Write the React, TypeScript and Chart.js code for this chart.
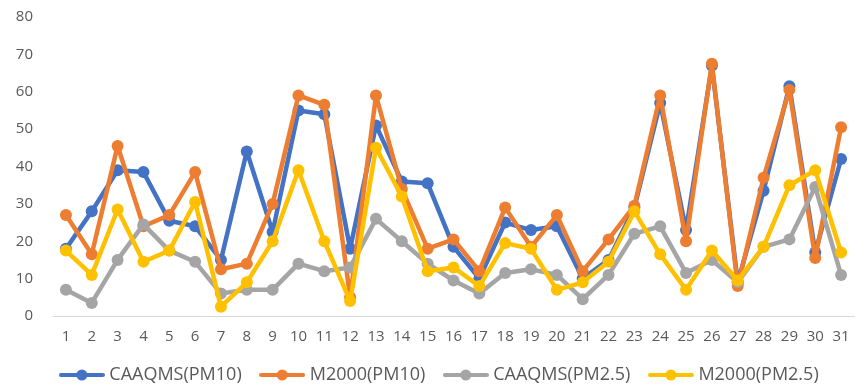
import React, { useEffect, useRef } from "react";
import { Chart, registerables } from "chart.js";

Chart.register(...registerables);

const days = ["1","2","3","4","5","6","7","8","9","10","11","12","13","14","15","16","17","18","19","20","21","22","23","24","25","26","27","28","29","30","31"];

const caaqmsPM10 = [18, 28, 39, 38.5, 25.5, 24, 15, 44, 22.5, 55, 54, 18, 51, 36, 35.5, 18.5, 10, 25, 23, 24, 10, 15, 29, 57, 23, 67, 9, 33.5, 61.5, 17, 42];
const m2000PM10 = [27, 16.5, 45.5, 24, 27, 38.5, 12.5, 14, 30, 59, 56.5, 5, 59, 34, 18, 20.5, 12, 29, 18.5, 27, 12, 20.5, 29.5, 59, 20, 67.5, 8, 37, 60.5, 15.5, 50.5];
const caaqmsPM25 = [7, 3.5, 15, 24.5, 17.5, 14.5, 6, 7, 7, 14, 12, 13, 26, 20, 14, 9.5, 6, 11.5, 12.5, 11, 4.5, 11, 22, 24, 11.5, 15, 9, 18.5, 20.5, 34.5, 11];
const m2000PM25 = [17.5, 11, 28.5, 14.5, 17.5, 30.5, 2.5, 9, 20, 39, 20, 4, 45, 32, 12, 13, 8, 19.5, 18, 7, 9, 14.5, 28, 16.5, 7, 17.5, 9.5, 18.5, 35, 39, 17];

const seriesNames = ["CAAQMS(PM10)", "M2000(PM10)", "CAAQMS(PM2.5)", "M2000(PM2.5)"];
const seriesColors = ["#4472C4", "#ED7D31", "#A5A5A5", "#FFC000"];
const yTicks = { min: 0, max: 80, step: 10 };

function makeIcon(color: string): HTMLCanvasElement {
  const c = document.createElement("canvas");
  c.width = 46;
  c.height = 14;
  const ctx = c.getContext("2d")!;
  ctx.strokeStyle = color;
  ctx.lineWidth = 4;
  ctx.lineCap = "round";
  ctx.beginPath();
  ctx.moveTo(2, 7);
  ctx.lineTo(44, 7);
  ctx.stroke();
  ctx.fillStyle = color;
  ctx.beginPath();
  ctx.arc(23, 7, 5.5, 0, Math.PI * 2);
  ctx.fill();
  return c;
}

const shiftLegend = {
  id: "shiftLegend",
  afterLayout(chart: any) {
    const lg = chart.legend;
    if (lg) {
      lg.left += 14;
      lg.right += 14;
    }
  },
};

export default function App() {
  const ref = useRef<HTMLCanvasElement | null>(null);

  useEffect(() => {
    document.body.style.margin = "0";
    document.body.style.overflow = "hidden";
    const canvas = ref.current!;
    const allData = [caaqmsPM10, m2000PM10, caaqmsPM25, m2000PM25];
    const icons = seriesColors.map(makeIcon);
    const chart = new Chart(canvas, {
      type: "line",
      data: {
        labels: days,
        datasets: allData.map((d, i) => ({
          label: seriesNames[i],
          data: d,
          borderColor: seriesColors[i],
          backgroundColor: seriesColors[i],
          pointBackgroundColor: seriesColors[i],
          pointBorderColor: seriesColors[i],
          borderWidth: 4.5,
          borderJoinStyle: "round" as const,
          borderCapStyle: "round" as const,
          pointRadius: 6,
          pointBorderWidth: 0,
          tension: 0,
          fill: false,
          order: 4 - i,
        })),
      },
      plugins: [shiftLegend],
      options: {
        responsive: false,
        animation: false,
        layout: { padding: { top: 17, right: 12, left: 0, bottom: 0 } },
        plugins: {
          tooltip: { enabled: false },
          legend: {
            position: "bottom",
            labels: {
              usePointStyle: true,
              pointStyleWidth: 37,
              padding: 22,
              color: "#595959",
              font: { family: "'Open Sans'", size: 18 },
              sort: (a: any, b: any) => a.datasetIndex - b.datasetIndex,
              generateLabels: (ch: any) => {
                const items = (Chart.defaults.plugins.legend.labels as any).generateLabels(ch);
                return items.map((it: any) => ({ ...it, pointStyle: icons[it.datasetIndex] }));
              },
            },
          },
        },
        scales: {
          x: {
            offset: true,
            grid: { display: false, drawTicks: false },
            border: { display: true, color: "#D9D9D9", width: 1 },
            ticks: {
              autoSkip: false,
              maxRotation: 0,
              minRotation: 0,
              padding: 12,
              color: "#595959",
              font: { family: "'Open Sans'", size: 15 },
            },
            afterFit: (s: any) => {
              s.height = 28;
            },
          },
          y: {
            min: yTicks.min,
            max: yTicks.max,
            grid: { display: false, drawTicks: false },
            border: { display: false },
            ticks: {
              stepSize: yTicks.step,
              padding: 20,
              color: "#595959",
              font: { family: "'Open Sans'", size: 15 },
            },
            afterFit: (s: any) => {
              s.width = 53;
              s.paddingTop = 8;
              s.paddingBottom = 8;
            },
          },
        },
      },
    });
    return () => chart.destroy();
  }, []);

  return (
    <div style={{ width: 866, height: 387, overflow: "hidden", background: "#fff" }}>
      <canvas ref={ref} width={866} height={394} style={{ display: "block" }} />
    </div>
  );
}
